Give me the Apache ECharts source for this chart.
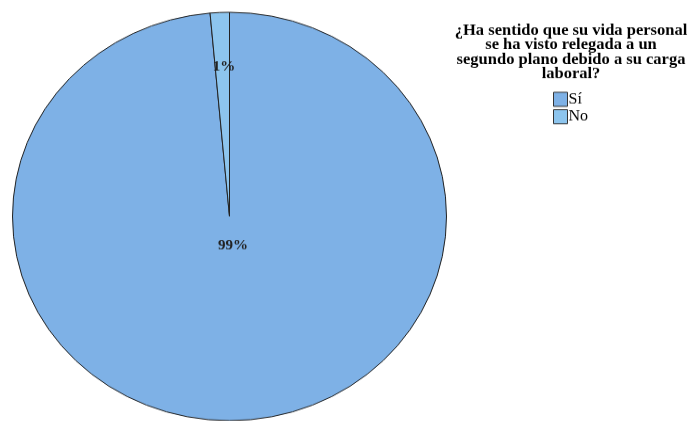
<!DOCTYPE html>
<html>
<head>
<meta charset="utf-8">
<script src="https://cdn.jsdelivr.net/npm/echarts@6/dist/echarts.min.js"></script>
<style>
html,body{margin:0;padding:0;background:#fff;overflow:hidden;width:693px;height:421px;}
#c{width:693px;height:448px;transform:scaleY(0.941);transform-origin:0 0;}
</style>
</head>
<body>
<div id="c"></div>
<script>
const categories = ['Sí', 'No'];
const counts = [69, 1];
const colors = ['#7EB1E6', '#8DC5EE'];
const titleLines = [
  '¿Ha sentido que su vida personal',
  'se ha visto relegada a un',
  'segundo plano debido a su carga',
  'laboral?'
];
const SERIF = '"Liberation Serif", "DejaVu Serif", "Times New Roman", serif';

const chart = echarts.init(document.getElementById('c'), null, {renderer: 'canvas'});
chart.setOption({
  animation: false,
  color: colors,
  title: {
    text: titleLines.join('\n'),
    left: 571,
    top: 25,
    padding: 0,
    textAlign: 'center',
    textStyle: {
      fontFamily: SERIF,
      fontWeight: 'bold',
      fontSize: 16.5,
      lineHeight: 15.4,
      color: '#000'
    }
  },
  legend: {
    orient: 'vertical',
    left: 553,
    top: 97.5,
    padding: 0,
    itemWidth: 14,
    itemHeight: 15,
    itemGap: 2.5,
    icon: 'rect',
    selectedMode: false,
    data: categories,
    itemStyle: {borderColor: '#333', borderWidth: 1},
    textStyle: {
      fontFamily: SERIF,
      fontSize: 16,
      color: '#000',
      padding: [0, 0, 0, -4]
    }
  },
  series: [{
    type: 'pie',
    center: [229.5, 230],
    radius: 217,
    startAngle: 90,
    clockwise: true,
    silent: true,
    itemStyle: {borderColor: '#222', borderWidth: 1},
    label: {
      show: true,
      position: 'inside',
      fontFamily: SERIF,
      fontWeight: 'bold',
      fontSize: 15,
      color: '#222',
      formatter: p => Math.round(p.percent) + '%'
    },
    labelLine: {show: false},
    labelLayout: function (params) {
      if (params.dataIndex === 1) return {dx: -0.5, dy: -47.5};
      return {dx: 3.5, dy: 31};
    },
    data: categories.map((n, i) => ({
      name: n,
      value: counts[i],
      label: i === 0 ? {position: 'center'} : {}
    }))
  }]
});
</script>
</body>
</html>
